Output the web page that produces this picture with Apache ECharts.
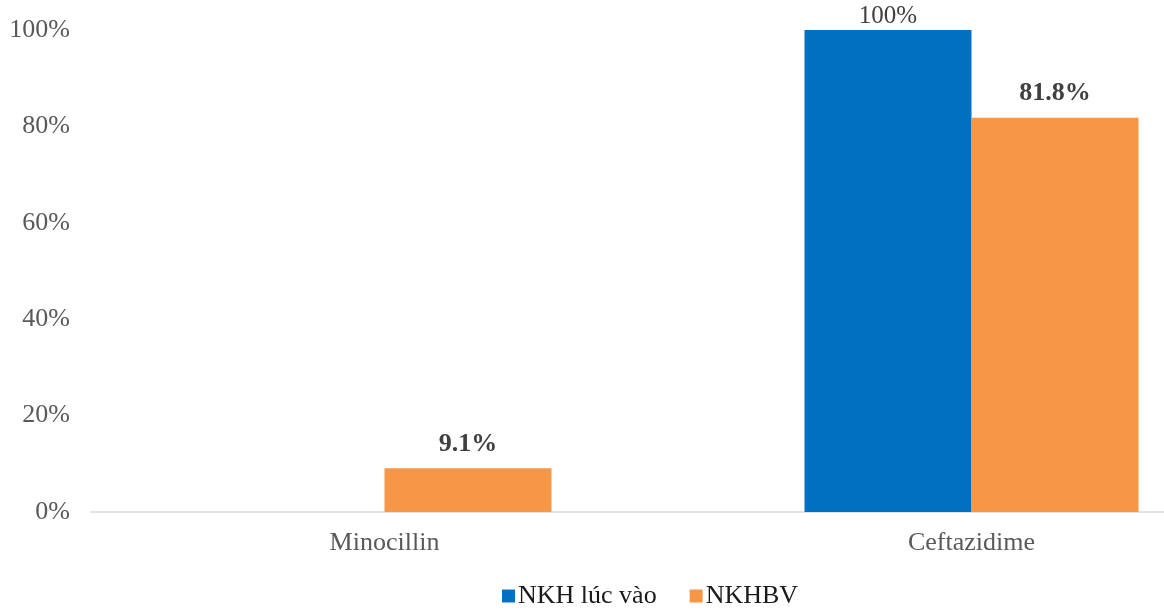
<!DOCTYPE html>
<html>
<head>
<meta charset="utf-8">
<script src="https://cdn.jsdelivr.net/npm/echarts@6/dist/echarts.min.js"></script>
<style>
  html, body { margin: 0; padding: 0; background: #fff; }
  #chart { width: 1164px; height: 611px; }
</style>
</head>
<body>
<div id="chart"></div>
<script>
const categories = ['Minocillin', 'Ceftazidime'];
const seriesNames = ['NKH lúc vào', 'NKHBV'];
const admissionValues = [null, 100];
const hospitalValues = [9.1, 81.8];
const yTicks = [0, 20, 40, 60, 80, 100];

const serif = 'Liberation Serif';
const seriesColors = ['#0070C0', '#F79646'];
const chart = echarts.init(document.getElementById('chart'));

chart.setOption({
  animation: false,
  textStyle: { fontFamily: serif },
  grid: {
    left: 91, top: 30, width: 1174, height: 482,
    containLabel: false, outerBoundsMode: 'none'
  },
  legend: {
    left: 502,
    top: 583,
    padding: 0,
    itemWidth: 13,
    itemHeight: 13,
    itemGap: 33,
    icon: 'rect',
    textStyle: {
      fontFamily: serif, fontSize: 26, color: '#1a1a1a', padding: [0, 0, 0, -2]
    },
    data: seriesNames
  },
  xAxis: {
    type: 'category',
    data: categories,
    axisLine: { lineStyle: { color: '#d9d9d9', width: 1.5 } },
    axisTick: { show: false },
    axisLabel: { fontFamily: serif, fontSize: 26, color: '#595959', margin: 18 }
  },
  yAxis: {
    type: 'value',
    min: yTicks[0],
    max: yTicks[yTicks.length - 1],
    interval: 20,
    splitLine: { show: false },
    axisLine: { show: false },
    axisTick: { show: false },
    axisLabel: {
      fontFamily: serif, fontSize: 26, color: '#595959', margin: 21,
      formatter: v => v + '%'
    }
  },
  series: [
    {
      name: seriesNames[0],
      type: 'bar',
      data: admissionValues,
      barWidth: 167,
      barGap: '0%',
      itemStyle: { color: seriesColors[0] },
      label: {
        show: true, position: 'top', distance: 1,
        fontFamily: serif, fontSize: 25, color: '#404040',
        formatter: p => p.value + '%'
      }
    },
    {
      name: seriesNames[1],
      type: 'bar',
      data: hospitalValues,
      barWidth: 167,
      barGap: '0%',
      itemStyle: { color: seriesColors[1] },
      label: {
        show: true, position: 'top', distance: 11,
        fontFamily: serif, fontSize: 26, fontWeight: 'bold', color: '#404040',
        formatter: p => p.value + '%'
      }
    }
  ]
});
</script>
</body>
</html>
